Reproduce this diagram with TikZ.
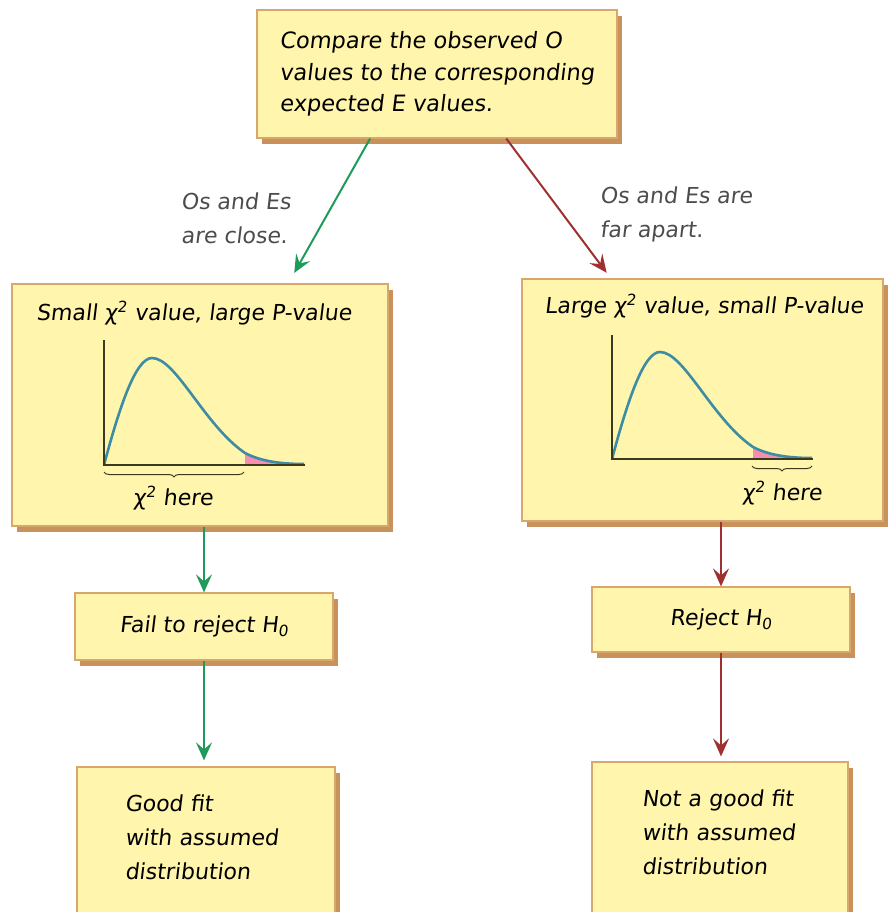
\documentclass[tikz,border=0pt]{standalone}
\usepackage{fontspec}
\setmainfont{DejaVu Sans}[FakeSlant=0.12]
\usepackage{xcolor}
\usetikzlibrary{positioning,arrows.meta,shadows,decorations.pathreplacing}
\definecolor{boxfill}{HTML}{FFF5AD}
\definecolor{boxedge}{HTML}{D9A66B}
\definecolor{boxshade}{HTML}{C9915C}
\definecolor{gogreen}{HTML}{1E9B5A}
\definecolor{nored}{HTML}{9E3030}
\definecolor{curveblue}{HTML}{3C8DA3}
\definecolor{tailpink}{HTML}{F48FB1}
\definecolor{axisdark}{HTML}{3B3A1E}

\begin{document}
\begin{tikzpicture}[
    x=1pt, y=-1pt,
    box/.style={
        draw=boxedge,
        fill=boxfill,
        line width=1.2pt,
        drop shadow={shadow xshift=5pt, shadow yshift=-6pt, fill=boxshade, opacity=1},
        align=center
    },
    txt/.style={
        inner sep=0pt,
        align=left,
        font=\fontsize{22}{34}\selectfont
    },
    label/.style={
        txt,
        text=black!70
    },
    goarrow/.style={
        draw=gogreen,
        line width=2pt,
        -{Stealth[length=18pt,width=16pt,inset=7pt]}
    },
    noarrow/.style={
        draw=nored,
        line width=2pt,
        -{Stealth[length=18pt,width=16pt,inset=7pt]}
    },
    axis/.style={
        draw=axisdark,
        line width=1.4pt
    },
    curve/.style={
        draw=curveblue,
        line width=2.6pt
    },
    under/.style={
        draw=axisdark,
        line width=1pt,
        decorate,
        decoration={brace, mirror, amplitude=5pt}
    }
]
\clip (0,0) rectangle (889,912);

% top box
\node[box, minimum width=360pt, minimum height=128pt, font=\fontsize{22.5}{31.5}\selectfont, align=left] (cmp) at (437,74)
{Compare the observed O\\
values to the corresponding\\
expected E values.};

% the two outcome boxes with their charts
\node[box, minimum width=376pt, minimum height=242pt] (smallbox) at (200,405) {};
\node[box, minimum width=361pt, minimum height=242pt] (largebox) at (702.5,400) {};
\node[txt] (smalltitle) at (194,313) {Small χ\textsuperscript{2} value, large P-value};
\node[txt] (largetitle) at (704,306) {Large χ\textsuperscript{2} value, small P-value};

\foreach \ox/\oy/\top in {104/465/125, 612/459/124} {
  \begin{scope}[shift={(\ox,\oy)}]
    \begin{scope}
      \clip (141,-60) rectangle (200,0);
      \fill[tailpink] (0,0) .. controls (16,-60) and (32,-107) .. (48,-107)
        .. controls (72,-107) and (100,-40) .. (141,-12)
        .. controls (158,-3) and (180,-1) .. (200,-1) -- cycle;
    \end{scope}
    \draw[curve] (0,0) .. controls (16,-60) and (32,-107) .. (48,-107)
      .. controls (72,-107) and (100,-40) .. (141,-12)
      .. controls (158,-3) and (180,-1) .. (200,-1);
    \draw[axis] (0,-\top) -- (0,0) -- (201,0);
  \end{scope}
}
\draw[under] (104,472) -- (244,472);
\draw[under] (752,466) -- (812,466);
\node[txt] (smallchi) at (173,498) {χ\textsuperscript{2} here};
\node[txt] (largechi) at (782,493) {χ\textsuperscript{2} here};

% decisions
\node[box, minimum width=258pt, minimum height=67pt, font=\fontsize{22}{34}\selectfont] (fail) at (204,626.5)
{Fail to reject H\textsubscript{0}};
\node[box, minimum width=258pt, minimum height=65pt, font=\fontsize{22}{34}\selectfont] (reject) at (721,619.5)
{Reject H\textsubscript{0}};

% conclusions
\node[box, minimum width=258pt, minimum height=158pt] (good) at (206,846) {};
\node[box, minimum width=256pt, minimum height=163pt] (notgood) at (720,843.5) {};
\node[txt, text width=160pt] (goodtxt) at (205,837)
{Good fit\\
with assumed\\
distribution};
\node[txt, text width=160pt] (notgoodtxt) at (722,832)
{Not a good fit\\
with assumed\\
distribution};

% branch labels
\node[label, anchor=west] (closelbl) at (181,218)
{Os and Es\\
are close.};
\node[label, anchor=west] (farlbl) at (600,214)
{Os and Es are\\
far apart.};

\draw[goarrow, shorten >=12pt] (cmp.224.6) -- (smallbox.54.9);
\draw[noarrow, shorten >=7pt] (cmp.317.9) -- (largebox.127.4);
\draw[goarrow] (smallbox.south -| fail.north) -- (fail.north);
\draw[goarrow, shorten >=6pt] (fail.south) -- (fail.south |- good.north);
\draw[noarrow] (largebox.south -| reject.north) -- (reject.north);
\draw[noarrow, shorten >=5pt] (reject.south) -- (reject.south |- notgood.north);
\end{tikzpicture}
\end{document}
